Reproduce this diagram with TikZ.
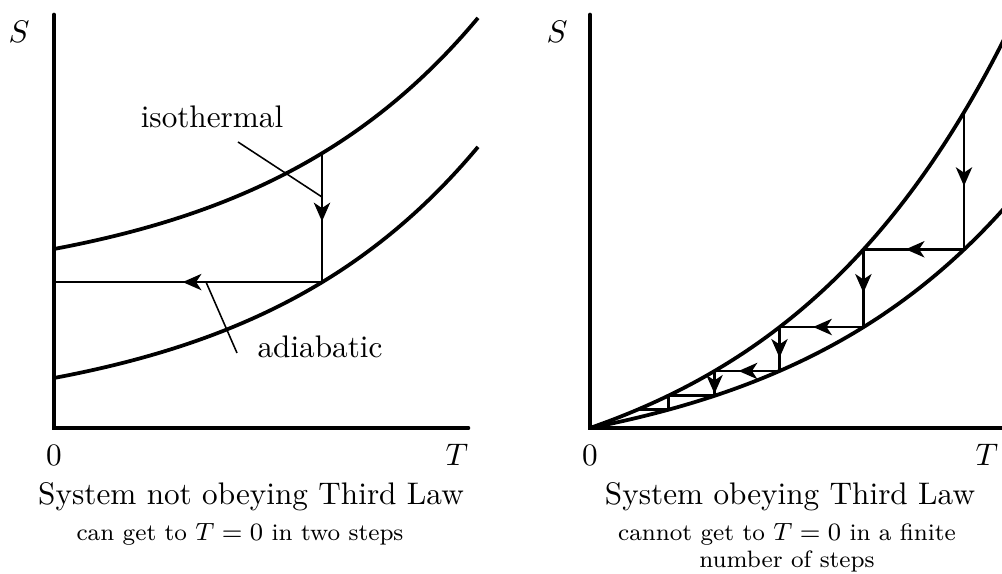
\documentclass[tikz,border=0pt]{standalone}
\usetikzlibrary{arrows.meta,decorations.markings}
\tikzset{
  axis/.style={line width=1.5pt, line cap=round},
  curve/.style={line width=1.2pt},
  stairs/.style={line width=0.9pt},
  pointer/.style={line width=0.5pt},
  subcap/.style={font=\fontsize{7.6}{8.7}\selectfont, align=center},
  flowat/.style={postaction={decorate},
    decoration={markings,mark=at position #1 with {\arrow{Stealth[length=6pt,width=5.2pt,inset=1.7pt]}}}}
}
\begin{document}
\begin{tikzpicture}[x=0.01126cm,y=-0.01126cm]
\useasboundingbox (0,0) rectangle (1002,574);
\clip (0,0) rectangle (1002,574);

% left: system not obeying the third law
\draw[axis] (54,15) -- (54,428) -- (468,428);
\node (lS) at (19,32) {$S$};
\node (l0) at (54,455) {$0$};
\node (lT) at (457,455) {$T$};
\draw[curve,domain=0:424,samples=80] plot ({54+\x},{249-43.1*(exp(0.00437*\x)-1)});
\draw[curve,domain=0:424,samples=80] plot ({54+\x},{378-43.1*(exp(0.00437*\x)-1)});
\coordinate (ltop) at (322,153.1);
\coordinate (lbot) at (322,282.1);
\coordinate (lend) at (54,282.1);
\draw[stairs,flowat=0.53] (ltop) -- (lbot);
\draw[stairs,flowat=0.52] (lbot) -- (lend);
\node (iso) at (212,117) {isothermal};
\node (adia) at (320,347) {adiabatic};
\coordinate (isofrom) at (238,142);
\coordinate (isoto) at (322,197);
\coordinate (adiafrom) at (237,353);
\coordinate (adiato) at (206,282);
\draw[pointer] (isofrom) -- (isoto);
\draw[pointer] (adiafrom) -- (adiato);
\node (lcap) at (251,497) {System not obeying Third Law};
\node[subcap] (lsub) at (240,534) {can get to $T=0$ in two steps};

% right: system obeying the third law
\draw[axis] (590,15) -- (590,428) -- (1010,428);
\node (rS) at (557,32) {$S$};
\node (r0) at (590,455) {$0$};
\node (rT) at (987,455) {$T$};
\draw[curve,domain=0:425,samples=90] plot ({590+\x},{428-83*(exp(0.0042*\x)-1)});
\draw[curve,domain=0:425,samples=90] plot ({590+\x},{428-46.9*(exp(0.0042*\x)-1)});
% corners of the steps, on the two curves
\coordinate (s1) at (964,111.8);
\coordinate (s2) at (964,249.3);
\coordinate (s3) at (863.4,249.3);
\coordinate (s4) at (863.4,327.0);
\coordinate (s5) at (779.5,327.0);
\coordinate (s6) at (779.5,371.0);
\coordinate (s7) at (714.5,371.0);
\coordinate (s8) at (714.5,395.8);
\coordinate (s9) at (668.1,395.8);
\coordinate (s10) at (668.1,409.8);
\coordinate (s11) at (637.2,409.8);
\draw[stairs,flowat=0.54] (s1) -- (s2);
\draw[stairs,flowat=0.58] (s2) -- (s3);
\draw[stairs,flowat=0.56] (s3) -- (s4);
\draw[stairs,flowat=0.6] (s4) -- (s5);
\draw[stairs,flowat=0.7] (s5) -- (s6);
\draw[stairs,flowat=0.63] (s6) -- (s7);
\draw[stairs,flowat=0.92] (s7) -- (s8);
\draw[stairs] (s8) -- (s9) -- (s10) -- (s11);
\node (rcap) at (790,497) {System obeying Third Law};
\node[subcap] (rsub) at (787,548) {cannot get to $T=0$ in a finite\\number of steps};
\end{tikzpicture}
\end{document}
